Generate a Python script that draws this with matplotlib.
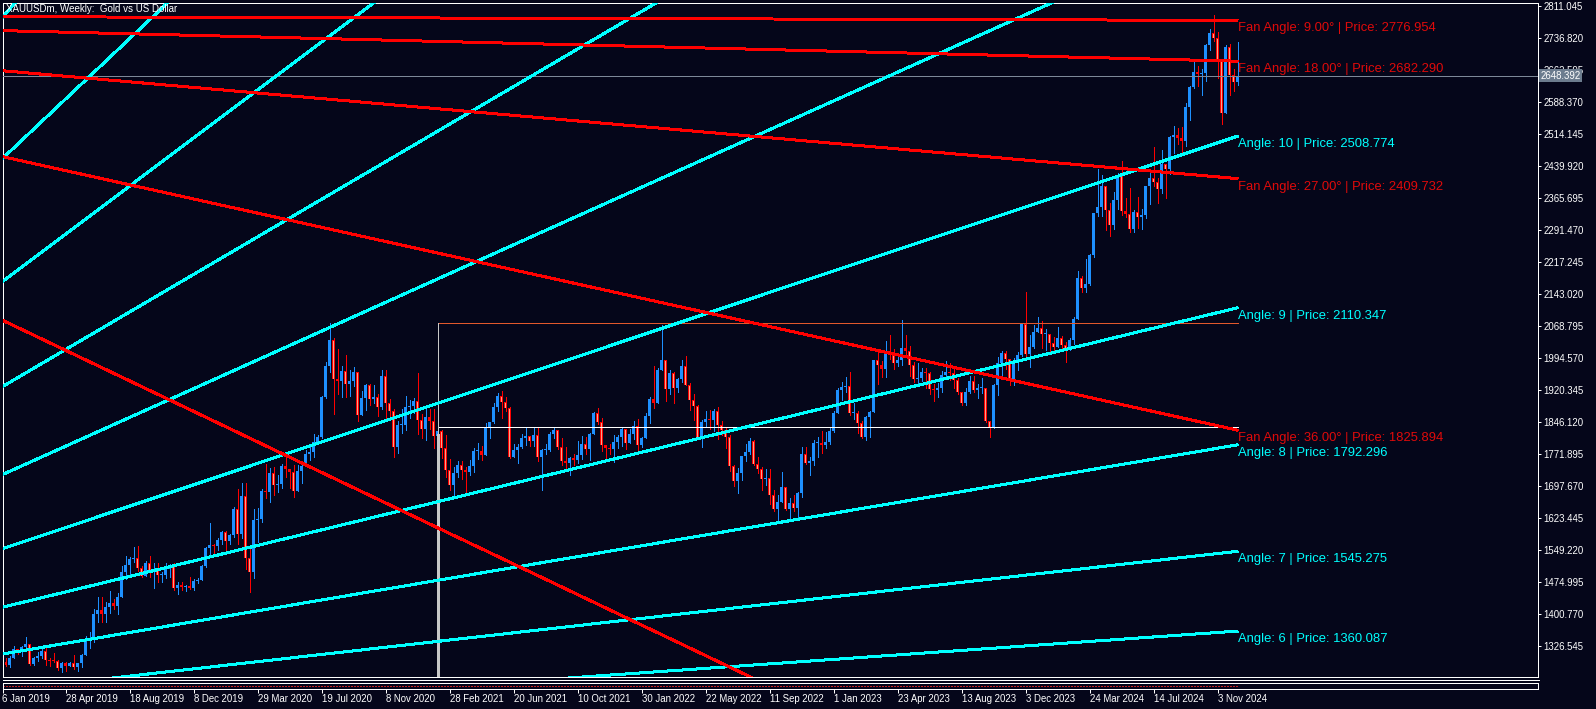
import matplotlib
matplotlib.use("Agg")
import matplotlib.pyplot as plt
from matplotlib.lines import Line2D
from matplotlib import font_manager
import numpy as np

# ---------------- data (weekly XAUUSD, week 0 = 6 Jan 2019) ----------------
first_open = 1283.0

close_2019 = [1289, 1282, 1298, 1318, 1314, 1322, 1329, 1284, 1298, 1302, 1313, 1292, 1291, 1290, 1275, 1286, 1279, 1286, 1276, 1285,
              1305, 1341, 1341, 1400, 1409, 1400, 1415, 1426, 1419, 1440, 1497, 1513, 1527, 1529, 1506, 1488, 1517, 1497, 1505, 1489,
              1490, 1505, 1514, 1459, 1468, 1462, 1464, 1460, 1476, 1479, 1511, 1552]
high_2019 = [1297, 1298, 1303, 1326, 1319, 1326, 1346, 1330, 1300, 1311, 1320, 1325, 1298, 1310, 1292, 1288, 1289, 1289, 1304, 1287,
             1307, 1348, 1358, 1411, 1439, 1438, 1427, 1453, 1434, 1449, 1510, 1535, 1531, 1555, 1557, 1511, 1522, 1535, 1519, 1517,
             1498, 1518, 1516, 1518, 1475, 1475, 1466, 1485, 1480, 1483, 1514, 1556]
low_2019 = [1279, 1280, 1276, 1297, 1306, 1302, 1320, 1281, 1281, 1290, 1297, 1281, 1280, 1288, 1270, 1266, 1267, 1279, 1273, 1267,
            1277, 1305, 1321, 1335, 1382, 1381, 1382, 1403, 1412, 1400, 1440, 1480, 1492, 1520, 1500, 1485, 1491, 1485, 1459, 1474,
            1474, 1483, 1486, 1456, 1445, 1456, 1452, 1458, 1456, 1471, 1478, 1508]

close_2020 = [1560, 1557, 1571, 1589, 1570, 1584, 1643, 1585, 1674, 1530, 1498, 1617, 1620, 1684, 1683, 1727, 1700, 1702, 1744, 1735,
              1730, 1685, 1731, 1743, 1771, 1775, 1799, 1810, 1902, 1975, 2035, 1944, 1940, 1964, 1934, 1940, 1962, 1862, 1900, 1930,
              1899, 1902, 1879, 1951, 1889, 1871, 1788, 1839, 1839, 1881, 1883, 1895]
high_2020 = [1611, 1563, 1575, 1592, 1592, 1585, 1649, 1689, 1703, 1704, 1560, 1644, 1645, 1690, 1747, 1738, 1740, 1722, 1748, 1765,
             1736, 1745, 1745, 1745, 1779, 1789, 1818, 1815, 1905, 1984, 2075, 2040, 2015, 1976, 2001, 1966, 1973, 1956, 1918, 1933,
             1933, 1932, 1911, 1966, 1965, 1898, 1875, 1848, 1875, 1906, 1897, 1900]
low_2020 = [1535, 1536, 1547, 1563, 1548, 1562, 1579, 1563, 1575, 1504, 1451, 1483, 1567, 1614, 1669, 1660, 1675, 1683, 1692, 1718,
            1693, 1670, 1693, 1704, 1742, 1757, 1764, 1795, 1807, 1900, 1961, 1863, 1911, 1902, 1902, 1906, 1929, 1848, 1872, 1873,
            1885, 1890, 1860, 1875, 1850, 1853, 1764, 1774, 1820, 1826, 1855, 1867]

close_2021 = [1849, 1828, 1856, 1848, 1813, 1824, 1784, 1734, 1700, 1727, 1745, 1733, 1729, 1744, 1777, 1777, 1769, 1831, 1844, 1881,
              1905, 1891, 1877, 1764, 1781, 1787, 1808, 1812, 1802, 1814, 1763, 1780, 1781, 1818, 1827, 1788, 1754, 1750, 1761, 1757,
              1768, 1793, 1783, 1817, 1865, 1846, 1792, 1784, 1783, 1798, 1811, 1829]
high_2021 = [1959, 1864, 1875, 1875, 1875, 1855, 1826, 1815, 1760, 1740, 1755, 1755, 1741, 1758, 1784, 1797, 1790, 1843, 1846, 1890,
             1913, 1917, 1904, 1879, 1795, 1795, 1818, 1834, 1813, 1832, 1832, 1782, 1795, 1823, 1834, 1827, 1809, 1787, 1765, 1770,
             1800, 1813, 1810, 1819, 1869, 1877, 1855, 1792, 1793, 1815, 1815, 1831]
low_2021 = [1817, 1809, 1803, 1830, 1785, 1808, 1761, 1717, 1687, 1676, 1718, 1714, 1677, 1721, 1730, 1760, 1756, 1770, 1808, 1842,
            1870, 1855, 1870, 1761, 1766, 1750, 1784, 1791, 1789, 1790, 1755, 1687, 1771, 1778, 1808, 1782, 1745, 1737, 1721, 1746,
            1750, 1760, 1770, 1758, 1820, 1840, 1778, 1762, 1771, 1753, 1785, 1790]

close_2022 = [1797, 1817, 1835, 1791, 1808, 1859, 1898, 1889, 1966, 1988, 1921, 1958, 1925, 1945, 1974, 1932, 1897, 1883, 1811, 1846,
              1853, 1850, 1871, 1839, 1827, 1811, 1742, 1708, 1727, 1766, 1775, 1802, 1747, 1737, 1712, 1716, 1675, 1643, 1660, 1695,
              1644, 1657, 1645, 1681, 1770, 1751, 1754, 1797, 1797, 1792, 1798, 1824]
high_2022 = [1829, 1830, 1848, 1853, 1810, 1865, 1902, 1974, 1970, 2070, 1990, 1966, 1960, 1947, 1988, 1998, 1936, 1910, 1885, 1849,
             1870, 1874, 1876, 1879, 1847, 1831, 1814, 1745, 1739, 1767, 1795, 1808, 1803, 1765, 1740, 1735, 1736, 1688, 1676, 1730,
             1690, 1669, 1675, 1682, 1786, 1787, 1763, 1804, 1810, 1824, 1823, 1833]
low_2022 = [1783, 1797, 1805, 1780, 1788, 1808, 1843, 1878, 1889, 1966, 1895, 1910, 1890, 1915, 1938, 1930, 1872, 1850, 1807, 1786,
            1835, 1828, 1825, 1805, 1816, 1784, 1732, 1697, 1680, 1711, 1754, 1771, 1745, 1727, 1688, 1700, 1654, 1639, 1615, 1687,
            1640, 1617, 1638, 1617, 1672, 1747, 1721, 1745, 1765, 1773, 1785, 1795]

close_2023 = [1866, 1920, 1926, 1929, 1865, 1865, 1842, 1811, 1856, 1868, 1989, 1978, 1969, 2007, 2004, 1983, 1990, 2017, 2011, 1977,
              1946, 1948, 1961, 1958, 1921, 1919, 1925, 1955, 1962, 1959, 1943, 1914, 1889, 1915, 1940, 1919, 1924, 1925, 1848, 1832,
              1932, 1981, 2006, 1992, 1940, 1981, 2001, 2072, 2004, 2019, 2053, 2063]
high_2023 = [1870, 1923, 1937, 1949, 1960, 1890, 1871, 1848, 1858, 1870, 1990, 2009, 1987, 2032, 2048, 2015, 2003, 2081, 2048, 2022,
             1985, 1983, 1970, 1971, 1962, 1934, 1935, 1964, 1987, 1982, 1974, 1948, 1914, 1925, 1953, 1953, 1933, 1947, 1925, 1842,
             1933, 1997, 2009, 2009, 1971, 1993, 2007, 2075, 2146, 2048, 2070, 2088]
low_2023 = [1822, 1866, 1897, 1915, 1861, 1853, 1819, 1809, 1804, 1810, 1881, 1934, 1949, 1950, 1992, 1969, 1974, 1977, 2002, 1952,
            1938, 1932, 1940, 1925, 1910, 1893, 1902, 1915, 1953, 1942, 1925, 1910, 1885, 1884, 1913, 1915, 1901, 1913, 1846, 1810,
            1834, 1908, 1954, 1969, 1932, 1931, 1965, 1998, 1993, 1973, 2016, 2054]

close_2024 = [2049, 2049, 2029, 2018, 2039, 2024, 2013, 2035, 2083, 2179, 2155, 2166, 2233, 2330, 2344, 2392, 2337, 2302, 2360, 2415,
              2334, 2327, 2293, 2333, 2321, 2326, 2392, 2411, 2401, 2386, 2443, 2431, 2507, 2512, 2503, 2497, 2577, 2622, 2658, 2653,
              2656, 2721, 2747, 2736, 2684, 2563, 2715, 2650, 2633, 2648.392]
high_2024 = [2079, 2062, 2039, 2042, 2066, 2045, 2030, 2041, 2088, 2195, 2185, 2223, 2236, 2331, 2431, 2418, 2393, 2353, 2378, 2422,
             2450, 2364, 2388, 2336, 2368, 2339, 2393, 2424, 2483, 2412, 2477, 2432, 2509, 2531, 2528, 2529, 2586, 2625, 2685, 2670,
             2665, 2722, 2758, 2790, 2750, 2686, 2721, 2722, 2665, 2726]
low_2024 = [2016, 2013, 2002, 2009, 2021, 2016, 1984, 2012, 2025, 2083, 2146, 2146, 2163, 2228, 2323, 2324, 2291, 2277, 2293, 2340,
            2325, 2321, 2286, 2287, 2295, 2293, 2319, 2352, 2392, 2353, 2377, 2364, 2420, 2470, 2491, 2472, 2485, 2546, 2620, 2625,
            2603, 2637, 2708, 2729, 2643, 2536, 2564, 2605, 2613, 2627]

price_ticks = [2811.045, 2736.820, 2662.595, 2588.370, 2514.145, 2439.920, 2365.695, 2291.470, 2217.245, 2143.020,
               2068.795, 1994.570, 1920.345, 1846.120, 1771.895, 1697.670, 1623.445, 1549.220, 1474.995, 1400.770, 1326.545]
date_tick_weeks = [0, 16, 32, 48, 64, 80, 96, 112, 128, 144, 160, 176, 192, 208, 224, 240, 256, 272, 288, 304]
date_tick_labels = ["6 Jan 2019", "28 Apr 2019", "18 Aug 2019", "8 Dec 2019", "29 Mar 2020", "19 Jul 2020", "8 Nov 2020",
                    "28 Feb 2021", "20 Jun 2021", "10 Oct 2021", "30 Jan 2022", "22 May 2022", "11 Sep 2022", "1 Jan 2023",
                    "23 Apr 2023", "13 Aug 2023", "3 Dec 2023", "24 Mar 2024", "14 Jul 2024", "3 Nov 2024"]

# Gann-style fans (origin week, origin price) -> price at anchor week
fan_anchor_week = 309
cyan_origin = (-160, 1055.0)
cyan_angles = [6, 7, 8, 9, 10, 11, 12, 13, 14, 15]
cyan_end_prices = [1360.087, 1545.275, 1792.296, 2110.347, 2508.774, 3012.0, 3610.0, 4324.0, 5160.0, 6119.0]
red_origin = (-160, 2790.0)
red_angles = [9.0, 18.0, 27.0, 36.0, 45.0]
red_end_prices = [2776.954, 2682.290, 2409.732, 1825.894, 714.0]

# rectangle object
rect_weeks = [109, 309]
rect_top = 2074.3
rect_bottom = 1833.0
rect_thick_from = 1815.0

bid_price = 2648.392
title = "XAUUSDm, Weekly:  Gold vs US Dollar"

# ---------------- build ----------------
closes = np.array(close_2019 + close_2020 + close_2021 + close_2022 + close_2023 + close_2024, dtype=float)
highs = np.array(high_2019 + high_2020 + high_2021 + high_2022 + high_2023 + high_2024, dtype=float)
lows = np.array(low_2019 + low_2020 + low_2021 + low_2022 + low_2023 + low_2024, dtype=float)
n = min(len(closes), len(highs), len(lows))
closes, highs, lows = closes[:n], highs[:n], lows[:n]
opens = np.concatenate([[first_open], closes[:-1]])
highs = np.maximum(highs, np.maximum(opens, closes))
lows = np.minimum(lows, np.minimum(opens, closes))
idx = np.arange(n)

plt.rcParams['font.family'] = ['Liberation Sans', 'DejaVu Sans']
installed = {f.name for f in font_manager.fontManager.ttflist}
if 'Liberation Sans Narrow' in installed:
    AX_FONT = ['Liberation Sans Narrow', 'Liberation Sans', 'DejaVu Sans']
    AX_SIZE = 8.0
else:
    AX_FONT = ['Liberation Sans', 'DejaVu Sans']
    AX_SIZE = 6.9

W, H, DPI = 1596, 709, 100
PX = 72.0 / DPI
BG = '#05061a'
BULL = '#1e90ff'
BEAR = '#ff0000'
SALMON = '#f4a48c'
CYAN = '#00ffff'
RED = '#ff0000'
WHITE = '#ffffff'

fig = plt.figure(figsize=(W / DPI, H / DPI), dpi=DPI, facecolor=BG)
Lp, Rp, Tp, Bp = 2.5, 1538.5, 2.5, 676.5
ax = fig.add_axes([Lp / W, 1 - Bp / H, (Rp - Lp) / W, (Bp - Tp) / H])
ax.set_facecolor(BG)

# scales: x pixel = 2 + 4*week ; price ticks 31.99 px apart
tick_px0, tick_px1 = 5.7, 645.5
ppp = (price_ticks[0] - price_ticks[-1]) / (tick_px1 - tick_px0)
ax.set_ylim(price_ticks[0] - (Bp - tick_px0) * ppp, price_ticks[0] + (tick_px0 - Tp) * ppp)
ax.set_xlim((Lp - 2) / 4.0, (Rp - 2) / 4.0)

# candles
bull = closes >= opens
bear = ~bull
body_lo = np.minimum(opens, closes)
body_hi = np.maximum(opens, closes)
body_h = np.maximum(body_hi - body_lo, ppp)
ax.vlines(idx[bull], lows[bull], highs[bull], color=BULL, lw=PX, antialiased=False, zorder=2)
ax.vlines(idx[bear], lows[bear], highs[bear], color=BEAR, lw=PX, antialiased=False, zorder=2)
ax.bar(idx[bull], body_h[bull], bottom=body_lo[bull], width=0.75, color=BULL, linewidth=0, antialiased=False, zorder=3)
ax.bar(idx[bear], body_h[bear], bottom=body_lo[bear], width=0.75, color=BEAR, linewidth=0, antialiased=False, zorder=3)
tall = bear & (body_hi - body_lo > 4 * ppp)
ax.vlines(idx[tall] - 0.2, body_lo[tall] + ppp, body_hi[tall] - ppp, color=SALMON, lw=PX, antialiased=False, zorder=3.5)

# bid line
ax.axhline(bid_price, color='#7d8898', lw=PX, zorder=4)

# rectangle object
ax.plot(rect_weeks, [rect_top, rect_top], color='#e2582c', lw=PX, zorder=4)
ax.plot(rect_weeks, [rect_bottom, rect_bottom], color=WHITE, lw=PX, zorder=4)
ymin = ax.get_ylim()[0]
ax.plot([rect_weeks[0]] * 2, [rect_top, ymin], color='#c8c8c8', lw=PX, zorder=4)
ax.plot([rect_weeks[0]] * 2, [rect_thick_from, ymin], color='#c8c8c8', lw=3 * PX, zorder=4)

ylo, yhi = ax.get_ylim()
# cyan fan
for ang, p in zip(cyan_angles, cyan_end_prices):
    ax.plot([cyan_origin[0], fan_anchor_week], [cyan_origin[1], p], color=CYAN, lw=2 * PX,
            antialiased=False, solid_capstyle='butt', zorder=5)
    if ylo < p < yhi:
        ax.annotate(f"Angle: {ang} | Price: {p:.3f}", xy=(fan_anchor_week, p), xytext=(0, -1.5),
                    textcoords='offset points', ha='left', va='top', color=CYAN, fontsize=9.4,
                    zorder=6, annotation_clip=False)
# red fan
for ang, p in zip(red_angles, red_end_prices):
    ax.plot([red_origin[0], fan_anchor_week], [red_origin[1], p], color=RED, lw=2 * PX,
            antialiased=False, solid_capstyle='butt', zorder=5)
    if ylo < p < yhi:
        ax.annotate(f"Fan Angle: {ang:.2f}\u00b0 | Price: {p:.3f}", xy=(fan_anchor_week, p), xytext=(0, -1.5),
                    textcoords='offset points', ha='left', va='top', color='#e00a0a', fontsize=9.4,
                    zorder=6, annotation_clip=False)

# axes styling
for s in ax.spines.values():
    s.set_color(WHITE)
    s.set_linewidth(PX)
ax.set_xticks([])
ax.yaxis.tick_right()
ax.set_yticks(price_ticks)
ax.set_yticklabels([f"{v:.3f}" for v in price_ticks], family=AX_FONT)
ax.tick_params(axis='y', direction='out', length=3 * PX, width=PX, colors=WHITE, labelsize=AX_SIZE, pad=1.2)

# current price box
ax.text(1.0013, bid_price, f"{bid_price:.3f}", transform=ax.get_yaxis_transform(), ha='left', va='center',
        color=WHITE, fontsize=AX_SIZE, family=AX_FONT, clip_on=False, zorder=10,
        bbox=dict(boxstyle='square,pad=0.16', fc='#6c7c8e', ec='none'))

# title
fig.text(6 / W, 1 - 8.5 / H, title, color=WHITE, fontsize=7, ha='left', va='center')

# separator + sub window
fig.add_artist(Line2D([Lp / W, Rp / W], [1 - 679.5 / H] * 2, color=WHITE, lw=PX))
ax2 = fig.add_axes([Lp / W, 1 - 688.5 / H, (Rp - Lp) / W, 6.0 / H])
ax2.set_facecolor(BG)
ax2.set_xlim(ax.get_xlim())
ax2.set_ylim(0, 1)
ax2.plot([0, n - 1], [0.5, 0.5], color='#c02020', lw=PX, ls=(0, (2, 2)), antialiased=False)
for s in ax2.spines.values():
    s.set_color(WHITE)
    s.set_linewidth(PX)
ax2.set_yticks([])
ax2.set_xticks(date_tick_weeks)
ax2.set_xticklabels(date_tick_labels, family=AX_FONT)
ax2.tick_params(axis='x', direction='out', length=4 * PX, width=PX, colors=WHITE, labelsize=AX_SIZE, pad=0.8)
for lab in ax2.get_xticklabels():
    lab.set_ha('left')

fig.savefig("out.png", dpi=DPI, facecolor=BG)
